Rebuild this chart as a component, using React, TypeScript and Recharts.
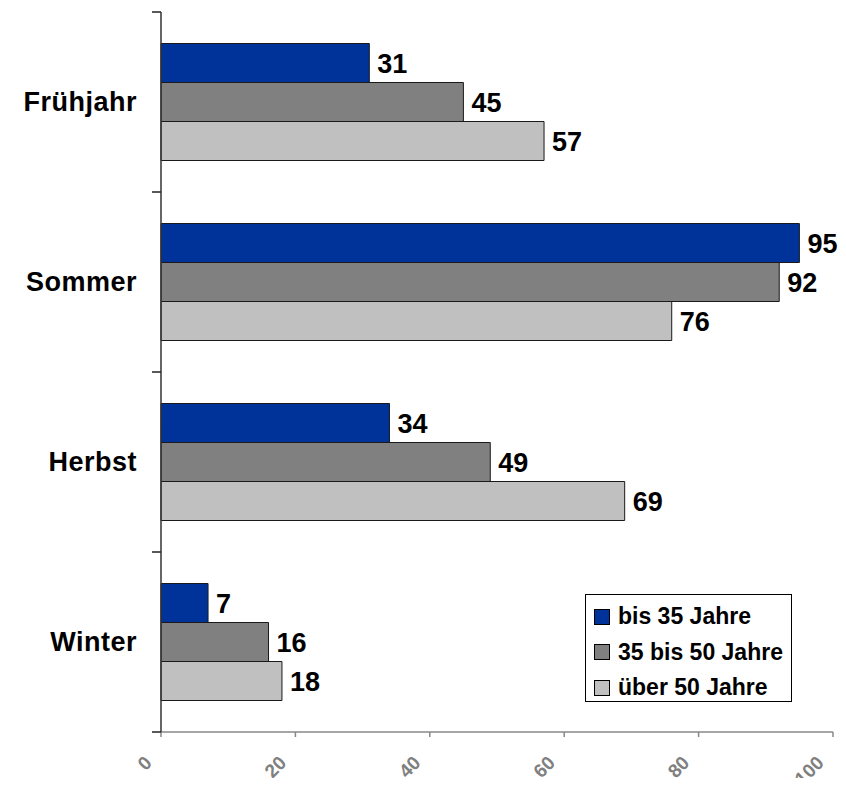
import React from 'react';
import { BarChart, Bar, XAxis, YAxis, LabelList, Legend } from 'recharts';

const categories = ['Frühjahr', 'Sommer', 'Herbst', 'Winter'];
const bis35 = [31, 95, 34, 7];
const bis50 = [45, 92, 49, 16];
const ueber50 = [57, 76, 69, 18];
const seriesNames = ['bis 35 Jahre', '35 bis 50 Jahre', 'über 50 Jahre'];
const seriesColors = ['#003399', '#808080', '#c0c0c0'];
const xTicks = [0, 20, 40, 60, 80, 100];

const data = categories.map((name, i) => ({
  name,
  a: bis35[i],
  b: bis50[i],
  c: ueber50[i],
}));

const FONT = '"Liberation Sans", Arial, Helvetica, sans-serif';
const Y_TICK_SIZE = 9;
const Y_TICK_MARGIN = 15;

const CategoryTick = (props: any) => {
  const { x, y, payload, index, height } = props;
  const half =
    payload && typeof payload.offset === 'number' && payload.offset > 0
      ? payload.offset
      : height / categories.length / 2;
  const axisX = x + Y_TICK_SIZE + Y_TICK_MARGIN;
  const isLast = index === categories.length - 1;
  return (
    <g>
      <line x1={axisX - Y_TICK_SIZE} x2={axisX} y1={y - half} y2={y - half} stroke="#222" strokeWidth={1.5} />
      {isLast && (
        <line x1={axisX - Y_TICK_SIZE} x2={axisX} y1={y + half} y2={y + half} stroke="#222" strokeWidth={1.5} />
      )}
      <text
        x={x}
        y={y}
        textAnchor="end"
        dominantBaseline="central"
        fontFamily={FONT}
        fontWeight="bold"
        fontSize={27}
        letterSpacing={0.5}
        fill="#000"
      >
        {payload.value}
      </text>
    </g>
  );
};

const XTick = (props: any) => {
  const { x, y, payload } = props;
  const ax = x - 8;
  const ay = y + 25;
  return (
    <text
      x={ax}
      y={ay}
      textAnchor="end"
      transform={`rotate(-45, ${ax}, ${ay})`}
      fontFamily={FONT}
      fontWeight="bold"
      fontSize={19}
      fill="#808080"
    >
      {payload.value}
    </text>
  );
};

const LegendContent = () => (
  <div
    style={{
      width: 207,
      height: 108,
      boxSizing: 'border-box',
      border: '1px solid #000',
      background: '#fff',
      fontFamily: FONT,
      fontWeight: 'bold',
      fontSize: 23,
      color: '#000',
      paddingTop: 4,
    }}
  >
    {seriesNames.map((n, i) => (
      <div key={n} style={{ display: 'flex', alignItems: 'center', height: 35.5, paddingLeft: 8 }}>
        <span
          style={{
            display: 'inline-block',
            width: 14,
            height: 14,
            background: seriesColors[i],
            border: '1px solid #000',
            marginRight: 8,
          }}
        />
        <span style={{ whiteSpace: 'nowrap' }}>{n}</span>
      </div>
    ))}
  </div>
);

const labelStyle = { fontFamily: FONT, fontWeight: 'bold' as const, fontSize: 27, fill: '#000' };

export default function App() {
  return (
    <div style={{ height: 770, width: 830 }}>
      <BarChart
        width={838}
        height={781}
        data={data}
        layout="vertical"
        margin={{ top: 4, right: 13, left: 0, bottom: 0 }}
        barCategoryGap="17.5%"
        barGap={0}
      >
        <XAxis
          type="number"
          domain={[0, 100]}
          ticks={xTicks}
          interval={0}
          height={57}
          axisLine={{ stroke: '#888', strokeWidth: 1.5 }}
          tickLine={{ stroke: '#888', strokeWidth: 1.5 }}
          tickSize={5}
          tickMargin={2}
          tick={<XTick />}
        />
        <YAxis
          type="category"
          dataKey="name"
          width={153}
          axisLine={{ stroke: '#333', strokeWidth: 1.5 }}
          tickLine={false}
          tickSize={Y_TICK_SIZE}
          tickMargin={Y_TICK_MARGIN}
          interval={0}
          tick={<CategoryTick />}
        />
        <Legend
          layout="horizontal"
          verticalAlign="middle"
          align="center"
          content={<LegendContent />}
          wrapperStyle={{ position: 'absolute', left: 577, top: 586, width: 207, height: 108 }}
        />
        {(['a', 'b', 'c'] as const).map((k, i) => (
          <Bar
            key={k}
            dataKey={k}
            name={seriesNames[i]}
            fill={seriesColors[i]}
            stroke="#1a1a1a"
            strokeWidth={1}
            isAnimationActive={false}
          >
            <LabelList dataKey={k} position="right" offset={8} style={labelStyle} />
          </Bar>
        ))}
      </BarChart>
    </div>
  );
}
